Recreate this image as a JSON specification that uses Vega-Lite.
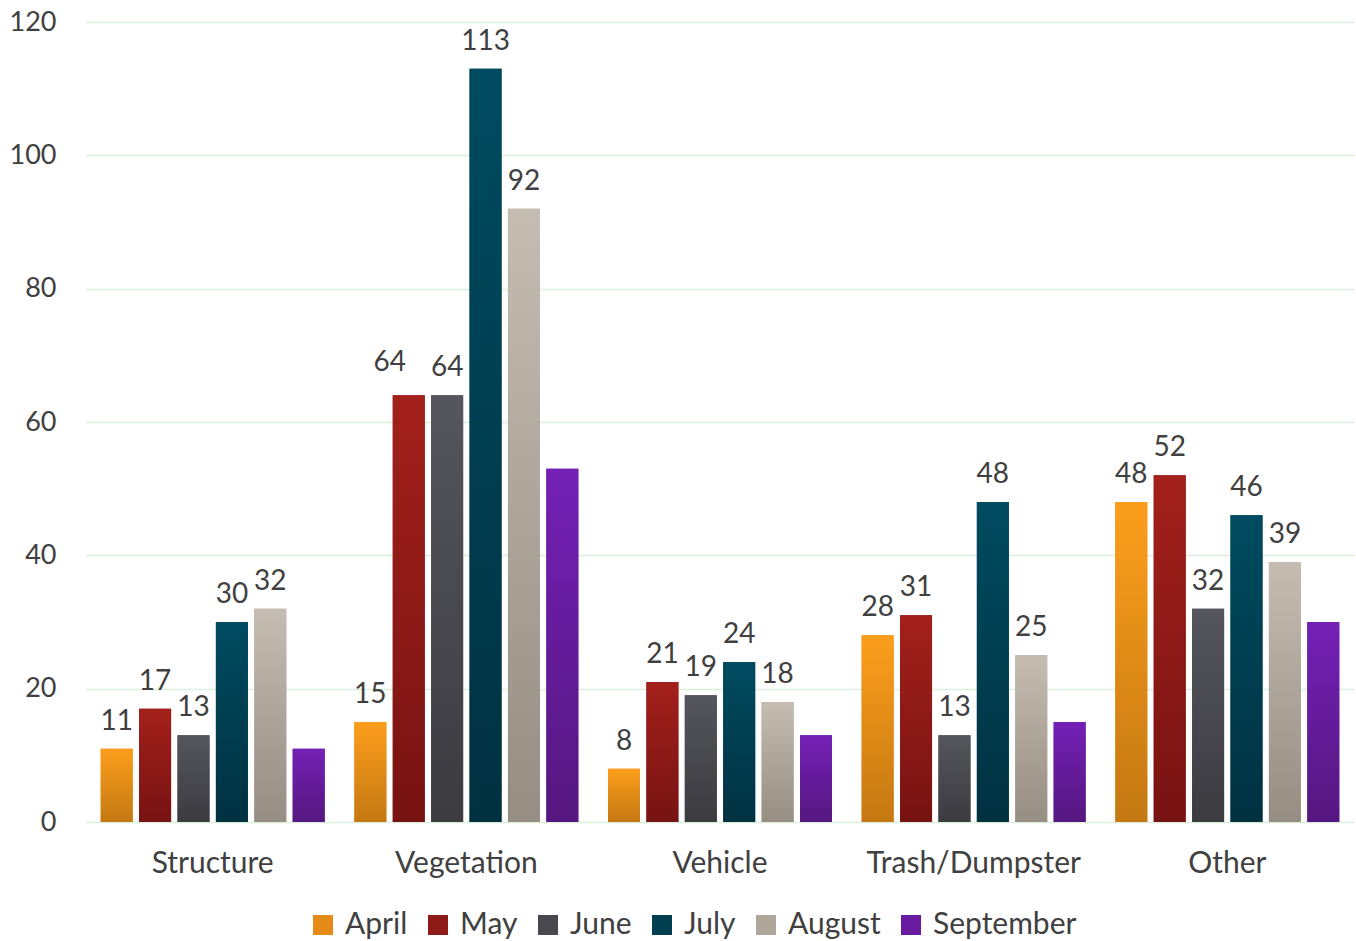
{
  "$schema": "https://vega.github.io/schema/vega-lite/v6.json",
  "width": 1268,
  "height": 800,
  "autosize": {"type": "none"},
  "padding": {"left": 86, "top": 22, "right": 2, "bottom": 119},
  "background": "white",
  "config": {"font": "Lato", "view": {"stroke": null}},
  "data": {"values": [
    {"cat": "Structure", "month": "April", "v": 11},
    {"cat": "Structure", "month": "May", "v": 17},
    {"cat": "Structure", "month": "June", "v": 13},
    {"cat": "Structure", "month": "July", "v": 30},
    {"cat": "Structure", "month": "August", "v": 32},
    {"cat": "Structure", "month": "September", "v": 11},
    {"cat": "Vegetation", "month": "April", "v": 15},
    {"cat": "Vegetation", "month": "May", "v": 64},
    {"cat": "Vegetation", "month": "June", "v": 64},
    {"cat": "Vegetation", "month": "July", "v": 113},
    {"cat": "Vegetation", "month": "August", "v": 92},
    {"cat": "Vegetation", "month": "September", "v": 53},
    {"cat": "Vehicle", "month": "April", "v": 8},
    {"cat": "Vehicle", "month": "May", "v": 21},
    {"cat": "Vehicle", "month": "June", "v": 19},
    {"cat": "Vehicle", "month": "July", "v": 24},
    {"cat": "Vehicle", "month": "August", "v": 18},
    {"cat": "Vehicle", "month": "September", "v": 13},
    {"cat": "Trash/Dumpster", "month": "April", "v": 28},
    {"cat": "Trash/Dumpster", "month": "May", "v": 31},
    {"cat": "Trash/Dumpster", "month": "June", "v": 13},
    {"cat": "Trash/Dumpster", "month": "July", "v": 48},
    {"cat": "Trash/Dumpster", "month": "August", "v": 25},
    {"cat": "Trash/Dumpster", "month": "September", "v": 15},
    {"cat": "Other", "month": "April", "v": 48},
    {"cat": "Other", "month": "May", "v": 52},
    {"cat": "Other", "month": "June", "v": 32},
    {"cat": "Other", "month": "July", "v": 46},
    {"cat": "Other", "month": "August", "v": 39},
    {"cat": "Other", "month": "September", "v": 30}
  ]},
  "encoding": {
    "x": {
      "field": "cat", "type": "nominal",
      "sort": ["Structure", "Vegetation", "Vehicle", "Trash/Dumpster", "Other"],
      "scale": {"paddingInner": 0.117, "paddingOuter": 0.058},
      "axis": {"title": null, "labelAngle": 0, "domain": false, "ticks": false, "labelFontSize": 30, "labelColor": "#404040", "labelPadding": 26, "labelLimit": 400}
    },
    "xOffset": {
      "field": "month", "type": "nominal",
      "sort": ["April", "May", "June", "July", "August", "September"],
      "scale": {"paddingInner": 0.167, "paddingOuter": 0}
    },
    "y": {
      "field": "v", "type": "quantitative",
      "scale": {"domain": [0, 120], "nice": false},
      "axis": {"title": null, "values": [0, 20, 40, 60, 80, 100, 120], "domain": false, "ticks": false, "labelFontSize": 27, "labelColor": "#404040", "labelPadding": 30, "gridColor": "#dcefdc", "gridWidth": 1.5}
    }
  },
  "layer": [
    {
      "mark": {"type": "bar"},
      "encoding": {
        "color": {
          "field": "month", "type": "nominal",
          "sort": ["April", "May", "June", "July", "August", "September"],
          "scale": {
            "domain": ["April", "May", "June", "July", "August", "September"],
            "range": ["#E58C18", "#8E1A17", "#48484E", "#003E50", "#B0A79B", "#6A1CA0"]
          },
          "legend": {
            "title": null, "orient": "none", "direction": "horizontal",
            "legendX": 222, "legendY": 888,
            "symbolType": "square", "symbolSize": 400, "symbolStrokeWidth": 0, "symbolOpacity": 1,
            "labelFontSize": 30, "labelColor": "#404040", "labelOffset": 7,
            "columnPadding": 15
          }
        }
      }
    },
    {
      "mark": {"type": "bar"},
      "encoding": {
        "color": {
          "condition": [
            {"test": "datum.month === 'April'", "value": {"gradient": "linear", "x1": 0, "y1": 0, "x2": 0, "y2": 1, "stops": [{"offset": 0, "color": "#FC9E1C"}, {"offset": 1, "color": "#C47812"}]}},
            {"test": "datum.month === 'May'", "value": {"gradient": "linear", "x1": 0, "y1": 0, "x2": 0, "y2": 1, "stops": [{"offset": 0, "color": "#A3201B"}, {"offset": 1, "color": "#771312"}]}},
            {"test": "datum.month === 'June'", "value": {"gradient": "linear", "x1": 0, "y1": 0, "x2": 0, "y2": 1, "stops": [{"offset": 0, "color": "#55555D"}, {"offset": 1, "color": "#3B3B40"}]}},
            {"test": "datum.month === 'July'", "value": {"gradient": "linear", "x1": 0, "y1": 0, "x2": 0, "y2": 1, "stops": [{"offset": 0, "color": "#004B60"}, {"offset": 1, "color": "#003141"}]}},
            {"test": "datum.month === 'August'", "value": {"gradient": "linear", "x1": 0, "y1": 0, "x2": 0, "y2": 1, "stops": [{"offset": 0, "color": "#C5BDB1"}, {"offset": 1, "color": "#968D83"}]}}
          ],
          "value": {"gradient": "linear", "x1": 0, "y1": 0, "x2": 0, "y2": 1, "stops": [{"offset": 0, "color": "#7420B6"}, {"offset": 1, "color": "#55177F"}]}
        }
      }
    },
    {
      "transform": [{"filter": "datum.month !== 'September' && !(datum.cat === 'Vegetation' && datum.month === 'May')"}],
      "mark": {"type": "text", "baseline": "bottom", "dy": -13, "fontSize": 28, "color": "#404040"},
      "encoding": {"text": {"field": "v", "type": "quantitative"}}
    },
    {
      "transform": [{"filter": "datum.cat === 'Vegetation' && datum.month === 'May'"}],
      "mark": {"type": "text", "baseline": "bottom", "dx": -19, "dy": -18, "fontSize": 28, "color": "#404040"},
      "encoding": {"text": {"field": "v", "type": "quantitative"}}
    }
  ]
}
